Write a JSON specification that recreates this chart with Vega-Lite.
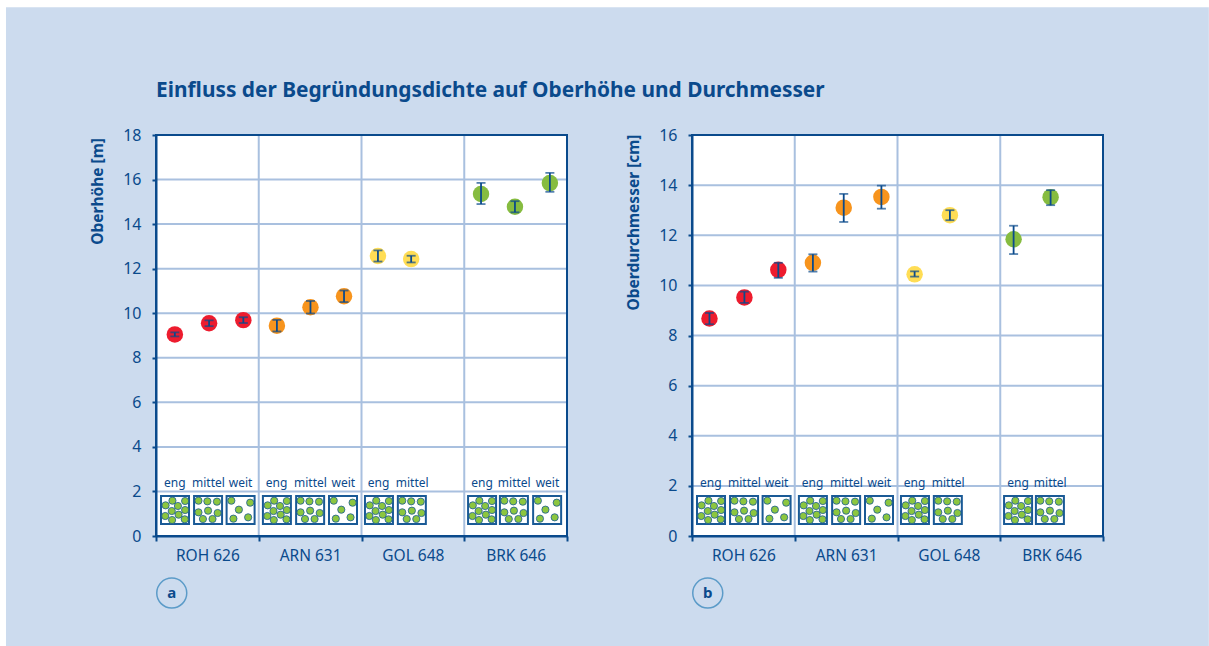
{"$schema":"https://vega.github.io/schema/vega-lite/v6.json","background":"#ffffff","padding":{"left":5,"top":7,"right":0,"bottom":0},"bounds":"flush","spacing":125,
"config":{"font":"Noto Sans","view":{"stroke":null}},
"datasets":{
"a":[{"g":"ROH","x":0.55,"v":9.05,"lo":8.96,"hi":9.14},{"g":"ROH","x":1.55,"v":9.55,"lo":9.42,"hi":9.68},{"g":"ROH","x":2.55,"v":9.69,"lo":9.56,"hi":9.82},{"g":"ARN","x":3.53,"v":9.44,"lo":9.18,"hi":9.7},{"g":"ARN","x":4.51,"v":10.27,"lo":9.99,"hi":10.55},{"g":"ARN","x":5.49,"v":10.76,"lo":10.5,"hi":11.02},{"g":"GOL","x":6.48,"v":12.57,"lo":12.32,"hi":12.82},{"g":"GOL","x":7.45,"v":12.43,"lo":12.28,"hi":12.58},{"g":"BRK","x":9.49,"v":15.35,"lo":14.9,"hi":15.85},{"g":"BRK","x":10.48,"v":14.78,"lo":14.53,"hi":15.03},{"g":"BRK","x":11.5,"v":15.84,"lo":15.45,"hi":16.3}],
"b":[{"g":"ROH","x":0.51,"v":8.68,"lo":8.45,"hi":8.9},{"g":"ROH","x":1.53,"v":9.52,"lo":9.3,"hi":9.75},{"g":"ROH","x":2.52,"v":10.62,"lo":10.3,"hi":10.9},{"g":"ARN","x":3.53,"v":10.9,"lo":10.55,"hi":11.24},{"g":"ARN","x":4.43,"v":13.1,"lo":12.53,"hi":13.65},{"g":"ARN","x":5.53,"v":13.53,"lo":13.06,"hi":13.98},{"g":"GOL","x":6.5,"v":10.44,"lo":10.35,"hi":10.56},{"g":"GOL","x":7.53,"v":12.8,"lo":12.6,"hi":13.0},{"g":"BRK","x":9.39,"v":11.84,"lo":11.25,"hi":12.38},{"g":"BRK","x":10.47,"v":13.52,"lo":13.2,"hi":13.8}],
"labels":[{"x":0.55,"t":"eng"},{"x":1.53,"t":"mittel"},{"x":2.47,"t":"weit"},{"x":3.52,"t":"eng"},{"x":4.51,"t":"mittel"},{"x":5.47,"t":"weit"},{"x":6.5,"t":"eng"},{"x":7.48,"t":"mittel"},{"x":9.52,"t":"eng"},{"x":10.46,"t":"mittel"},{"x":11.43,"t":"weit"}],
"icons":[{"x":0.555},{"x":1.52},{"x":2.47},{"x":3.53},{"x":4.5},{"x":5.46},{"x":6.51},{"x":7.47},{"x":9.52},{"x":10.45},{"x":11.42}],
"dots":[
{"x":0.48,"y":1.586},{"x":0.85,"y":1.571},{"x":0.28,"y":1.376},{"x":0.64,"y":1.347},{"x":0.85,"y":1.167},{"x":0.46,"y":1.122},{"x":0.27,"y":0.898},{"x":0.66,"y":0.958},{"x":0.84,"y":0.748},{"x":0.47,"y":0.718},
{"x":3.45,"y":1.586},{"x":3.82,"y":1.571},{"x":3.26,"y":1.376},{"x":3.62,"y":1.347},{"x":3.82,"y":1.167},{"x":3.43,"y":1.122},{"x":3.25,"y":0.898},{"x":3.64,"y":0.958},{"x":3.81,"y":0.748},{"x":3.44,"y":0.718},
{"x":6.43,"y":1.586},{"x":6.8,"y":1.571},{"x":6.24,"y":1.376},{"x":6.6,"y":1.347},{"x":6.8,"y":1.167},{"x":6.41,"y":1.122},{"x":6.23,"y":0.898},{"x":6.62,"y":0.958},{"x":6.79,"y":0.748},{"x":6.42,"y":0.718},
{"x":9.44,"y":1.586},{"x":9.81,"y":1.571},{"x":9.25,"y":1.376},{"x":9.61,"y":1.347},{"x":9.81,"y":1.167},{"x":9.42,"y":1.122},{"x":9.24,"y":0.898},{"x":9.63,"y":0.958},{"x":9.8,"y":0.748},{"x":9.43,"y":0.718},
{"x":1.24,"y":1.586},{"x":1.5,"y":1.556},{"x":1.78,"y":1.541},{"x":1.24,"y":1.062},{"x":1.52,"y":1.137},{"x":1.8,"y":1.032},{"x":1.37,"y":0.763},{"x":1.65,"y":0.763},
{"x":4.22,"y":1.586},{"x":4.48,"y":1.556},{"x":4.76,"y":1.541},{"x":4.22,"y":1.062},{"x":4.5,"y":1.137},{"x":4.78,"y":1.032},{"x":4.35,"y":0.763},{"x":4.63,"y":0.763},
{"x":7.19,"y":1.586},{"x":7.45,"y":1.556},{"x":7.73,"y":1.541},{"x":7.19,"y":1.062},{"x":7.47,"y":1.137},{"x":7.75,"y":1.032},{"x":7.32,"y":0.763},{"x":7.6,"y":0.763},
{"x":10.17,"y":1.586},{"x":10.43,"y":1.556},{"x":10.71,"y":1.541},{"x":10.17,"y":1.062},{"x":10.45,"y":1.137},{"x":10.73,"y":1.032},{"x":10.3,"y":0.763},{"x":10.58,"y":0.763},
{"x":2.2,"y":1.586},{"x":2.75,"y":1.496},{"x":2.42,"y":1.182},{"x":2.26,"y":0.778},{"x":2.69,"y":0.838},
{"x":5.19,"y":1.586},{"x":5.74,"y":1.496},{"x":5.41,"y":1.182},{"x":5.25,"y":0.778},{"x":5.68,"y":0.838},
{"x":11.15,"y":1.586},{"x":11.7,"y":1.496},{"x":11.37,"y":1.182},{"x":11.21,"y":0.778},{"x":11.64,"y":0.838}],
"vgrid":[{"x":3},{"x":6},{"x":9}],
"hgridA":[{"y":2},{"y":4},{"y":6},{"y":8},{"y":10},{"y":12},{"y":14},{"y":16}],
"hgridB":[{"y":2},{"y":4},{"y":6},{"y":8},{"y":10},{"y":12},{"y":14}]
},
"hconcat":[
{"title":{"text":"Einfluss der Begründungsdichte auf Oberhöhe und Durchmesser","anchor":"start","frame":"group","offset":-95,"fontSize":20.85,"fontWeight":"bold","color":"#0a4a8c","font":"Noto Sans","limit":800},
"width":411,"height":401,
"layer":[
{"mark":{"type":"rect","fill":"#ccdbee"},"data":{"values":[{}]},"encoding":{"x":{"datum":-4.38,"type":"quantitative","scale":{"domain":[0,12],"nice":false},"axis":{"zindex":1,"title":null,"values":[0,1.5,3,4.5,6,7.5,9,10.5,12],"grid":false,"domainColor":"#0a4a8c","domainWidth":2,"tickColor":"#0a4a8c","tickWidth":2,"tickSize":{"condition":{"test":"datum.value % 3 == 0","value":5},"value":0},"labelColor":"#0a4a8c","labelFontSize":15.5,"labelPadding":12,"labelExpr":"datum.value==1.5?'ROH 626':datum.value==4.5?'ARN 631':datum.value==7.5?'GOL 648':datum.value==10.5?'BRK 646':''"}},"x2":{"datum":30.74},"y":{"datum":23.74,"type":"quantitative","scale":{"domain":[0,18],"nice":false},"axis":{"zindex":1,"title":"Oberhöhe [m]","titleColor":"#0a4a8c","titleFontSize":15.5,"titleFontWeight":"bold","titleX":-51,"titleY":56,"titleAnchor":"middle","values":[0,2,4,6,8,10,12,14,16,18],"grid":false,"domainColor":"#0a4a8c","domainWidth":2,"tickColor":"#0a4a8c","tickWidth":2,"tickSize":4,"labelColor":"#0a4a8c","labelFontSize":16,"labelPadding":11}},"y2":{"datum":-4.94}}},
{"mark":{"type":"rect","fill":"#ffffff"},"data":{"values":[{}]},"encoding":{"x":{"datum":0},"x2":{"datum":12},"y":{"datum":0},"y2":{"datum":18}}},
{"mark":{"type":"rule","color":"#a9c0df","strokeWidth":2},"data":{"name":"vgrid"},"encoding":{"x":{"field":"x","type":"quantitative"},"y":{"datum":0},"y2":{"datum":18}}},
{"mark":{"type":"rule","color":"#a9c0df","strokeWidth":2},"data":{"name":"hgridA"},"encoding":{"y":{"field":"y","type":"quantitative"},"x":{"datum":0},"x2":{"datum":12}}},
{"mark":{"type":"rect","fill":null,"stroke":"#0a4a8c","strokeWidth":2},"data":{"values":[{}]},"encoding":{"x":{"datum":0},"x2":{"datum":12},"y":{"datum":0},"y2":{"datum":18}}},
{"mark":{"type":"point","filled":true,"size":272,"opacity":1},"data":{"name":"a"},"encoding":{"x":{"field":"x","type":"quantitative"},"y":{"field":"v","type":"quantitative"},"color":{"field":"g","type":"nominal","legend":null,"scale":{"domain":["ROH","ARN","GOL","BRK"],"range":["#ed1c2e","#f7941d","#ffdd55","#86bc40"]}}}},
{"mark":{"type":"rule","color":"#0a4a8c","strokeWidth":1.8},"data":{"name":"a"},"encoding":{"x":{"field":"x","type":"quantitative"},"y":{"field":"lo","type":"quantitative"},"y2":{"field":"hi"}}},
{"mark":{"type":"tick","orient":"horizontal","size":9,"thickness":1.8,"color":"#0a4a8c"},"data":{"name":"a"},"encoding":{"x":{"field":"x","type":"quantitative"},"y":{"field":"lo","type":"quantitative"}}},
{"mark":{"type":"tick","orient":"horizontal","size":9,"thickness":1.8,"color":"#0a4a8c"},"data":{"name":"a"},"encoding":{"x":{"field":"x","type":"quantitative"},"y":{"field":"hi","type":"quantitative"}}},
{"mark":{"type":"text","fontSize":12,"color":"#0a4a8c"},"data":{"name":"labels"},"encoding":{"x":{"field":"x","type":"quantitative"},"y":{"datum":2.38},"text":{"field":"t"}}},
{"mark":{"type":"square","filled":true,"fill":"#ffffff","stroke":"#1a5a96","strokeWidth":2,"size":784,"opacity":1},"data":{"name":"icons"},"encoding":{"x":{"field":"x","type":"quantitative"},"y":{"datum":1.167}}},
{"mark":{"type":"point","filled":true,"fill":"#8cc63f","stroke":"#1a5a96","strokeWidth":0.8,"size":52,"opacity":1},"data":{"name":"dots"},"encoding":{"x":{"field":"x","type":"quantitative"},"y":{"field":"y","type":"quantitative"}}},
{"mark":{"type":"point","filled":false,"stroke":"#5b9bc8","strokeWidth":1.5,"size":900,"opacity":1},"data":{"values":[{"x":0.46}]},"encoding":{"x":{"field":"x","type":"quantitative"},"y":{"datum":-2.56}}},
{"mark":{"type":"text","fontSize":15,"fontWeight":"bold","color":"#0a4a8c"},"data":{"values":[{"x":0.46,"t":"a"}]},"encoding":{"x":{"field":"x","type":"quantitative"},"y":{"datum":-2.56},"text":{"field":"t"}}}
]},
{"width":411,"height":401,
"resolve":{"scale":{"y":"independent"}},
"layer":[
{"layer":[
{"mark":{"type":"rect","fill":"#ffffff"},"data":{"values":[{}]},"encoding":{"x":{"datum":0,"type":"quantitative","scale":{"domain":[0,12],"nice":false},"axis":{"zindex":1,"title":null,"values":[0,1.5,3,4.5,6,7.5,9,10.5,12],"grid":false,"domainColor":"#0a4a8c","domainWidth":2,"tickColor":"#0a4a8c","tickWidth":2,"tickSize":{"condition":{"test":"datum.value % 3 == 0","value":5},"value":0},"labelColor":"#0a4a8c","labelFontSize":15.5,"labelPadding":12,"labelExpr":"datum.value==1.5?'ROH 626':datum.value==4.5?'ARN 631':datum.value==7.5?'GOL 648':datum.value==10.5?'BRK 646':''"}},"x2":{"datum":12},"y":{"datum":0,"type":"quantitative","scale":{"domain":[0,16],"nice":false},"axis":{"zindex":1,"title":"Oberdurchmesser [cm]","titleColor":"#0a4a8c","titleFontSize":15.5,"titleFontWeight":"bold","titleX":-51,"titleY":87,"titleAnchor":"middle","values":[0,2,4,6,8,10,12,14,16],"grid":false,"domainColor":"#0a4a8c","domainWidth":2,"tickColor":"#0a4a8c","tickWidth":2,"tickSize":4,"labelColor":"#0a4a8c","labelFontSize":16,"labelPadding":11}},"y2":{"datum":16}}},
{"mark":{"type":"rule","color":"#a9c0df","strokeWidth":2},"data":{"name":"vgrid"},"encoding":{"x":{"field":"x","type":"quantitative"},"y":{"datum":0},"y2":{"datum":16}}},
{"mark":{"type":"rule","color":"#a9c0df","strokeWidth":2},"data":{"name":"hgridB"},"encoding":{"y":{"field":"y","type":"quantitative"},"x":{"datum":0},"x2":{"datum":12}}},
{"mark":{"type":"rect","fill":null,"stroke":"#0a4a8c","strokeWidth":2},"data":{"values":[{}]},"encoding":{"x":{"datum":0},"x2":{"datum":12},"y":{"datum":0},"y2":{"datum":16}}},
{"mark":{"type":"point","filled":true,"size":272,"opacity":1},"data":{"name":"b"},"encoding":{"x":{"field":"x","type":"quantitative"},"y":{"field":"v","type":"quantitative"},"color":{"field":"g","type":"nominal","legend":null,"scale":{"domain":["ROH","ARN","GOL","BRK"],"range":["#ed1c2e","#f7941d","#ffdd55","#86bc40"]}}}},
{"mark":{"type":"rule","color":"#0a4a8c","strokeWidth":1.8},"data":{"name":"b"},"encoding":{"x":{"field":"x","type":"quantitative"},"y":{"field":"lo","type":"quantitative"},"y2":{"field":"hi"}}},
{"mark":{"type":"tick","orient":"horizontal","size":9,"thickness":1.8,"color":"#0a4a8c"},"data":{"name":"b"},"encoding":{"x":{"field":"x","type":"quantitative"},"y":{"field":"lo","type":"quantitative"}}},
{"mark":{"type":"tick","orient":"horizontal","size":9,"thickness":1.8,"color":"#0a4a8c"},"data":{"name":"b"},"encoding":{"x":{"field":"x","type":"quantitative"},"y":{"field":"hi","type":"quantitative"}}}
]},
{"layer":[
{"mark":{"type":"text","fontSize":12,"color":"#0a4a8c"},"data":{"name":"labels"},"transform":[{"filter":"datum.x < 11"}],"encoding":{"x":{"field":"x","type":"quantitative"},"y":{"datum":2.38,"type":"quantitative","scale":{"domain":[0,18],"nice":false},"axis":null},"text":{"field":"t"}}},
{"mark":{"type":"square","filled":true,"fill":"#ffffff","stroke":"#1a5a96","strokeWidth":2,"size":784,"opacity":1},"data":{"name":"icons"},"transform":[{"filter":"datum.x < 11"}],"encoding":{"x":{"field":"x","type":"quantitative"},"y":{"datum":1.167}}},
{"mark":{"type":"point","filled":true,"fill":"#8cc63f","stroke":"#1a5a96","strokeWidth":0.8,"size":52,"opacity":1},"data":{"name":"dots"},"transform":[{"filter":"datum.x < 11"}],"encoding":{"x":{"field":"x","type":"quantitative"},"y":{"field":"y","type":"quantitative"}}},
{"mark":{"type":"point","filled":false,"stroke":"#5b9bc8","strokeWidth":1.5,"size":900,"opacity":1},"data":{"values":[{"x":0.46}]},"encoding":{"x":{"field":"x","type":"quantitative"},"y":{"datum":-2.56}}},
{"mark":{"type":"text","fontSize":15,"fontWeight":"bold","color":"#0a4a8c"},"data":{"values":[{"x":0.46,"t":"b"}]},"encoding":{"x":{"field":"x","type":"quantitative"},"y":{"datum":-2.56},"text":{"field":"t"}}}
]}
]}
]}
